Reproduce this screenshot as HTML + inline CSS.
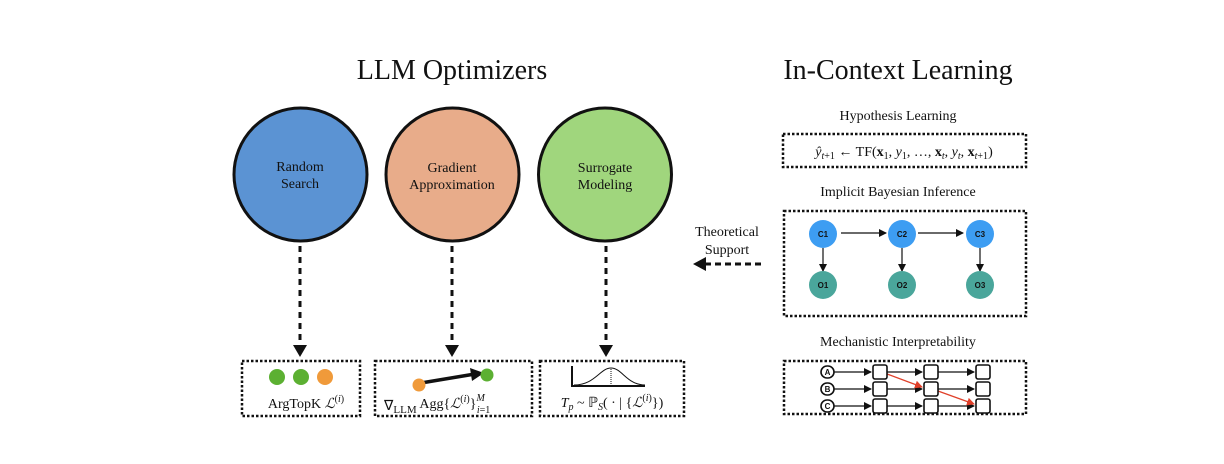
<!DOCTYPE html>
<html><head><meta charset="utf-8"><style>
html,body{margin:0;padding:0;background:#fff;}
svg{display:block;}
text{font-family:"Liberation Serif",serif;fill:#111;}
.s{font-family:"Liberation Sans",sans-serif;font-weight:bold;font-size:8px;}
</style></head><body>
<svg width="1224" height="464" viewBox="0 0 1224 464" xmlns="http://www.w3.org/2000/svg">
<defs>
<marker id="ah" markerWidth="8" markerHeight="8" refX="7" refY="4" orient="auto" markerUnits="userSpaceOnUse"><path d="M0,0 L8,4 L0,8 z" fill="#111"/></marker>
<marker id="ar" markerWidth="8" markerHeight="8" refX="7" refY="4" orient="auto" markerUnits="userSpaceOnUse"><path d="M0,0 L8,4 L0,8 z" fill="#e0402a"/></marker>
</defs>
<text x="452" y="79" font-size="28" text-anchor="middle">LLM Optimizers</text>
<text x="898" y="79" font-size="28" text-anchor="middle">In-Context Learning</text>

<circle cx="300.5" cy="174.5" r="66.5" fill="#5b93d3" stroke="#111" stroke-width="3"/>
<circle cx="452.5" cy="174.5" r="66.5" fill="#e8ac8a" stroke="#111" stroke-width="3"/>
<circle cx="605" cy="174.5" r="66.5" fill="#a0d67d" stroke="#111" stroke-width="3"/>
<g font-size="14" text-anchor="middle">
<text x="300" y="171">Random</text><text x="300" y="188">Search</text>
<text x="452" y="172">Gradient</text><text x="452" y="189">Approximation</text>
<text x="605" y="172">Surrogate</text><text x="605" y="189">Modeling</text>
</g>

<g stroke="#111" stroke-width="3" stroke-dasharray="6,5">
<line x1="300" y1="246" x2="300" y2="343"/>
<line x1="452" y1="246" x2="452" y2="343"/>
<line x1="606" y1="246" x2="606" y2="343"/>
</g>
<g fill="#111">
<path d="M293,345 L307,345 L300,357 z"/>
<path d="M445,345 L459,345 L452,357 z"/>
<path d="M599,345 L613,345 L606,357 z"/>
</g>

<g fill="none" stroke="#111" stroke-width="2.5" stroke-dasharray="2.5,2">
<rect x="242" y="361" width="118" height="55"/>
<rect x="375" y="361" width="157" height="55"/>
<rect x="540" y="361" width="144" height="55"/>
<rect x="783" y="134" width="243" height="33"/>
<rect x="784" y="211" width="242" height="105"/>
<rect x="784" y="361" width="242" height="53"/>
</g>

<circle cx="277" cy="377" r="8" fill="#5cb032"/>
<circle cx="301" cy="377" r="8" fill="#5cb032"/>
<circle cx="325" cy="377" r="8" fill="#f09a3a"/>
<text x="306" y="408" font-size="14" text-anchor="middle">ArgTopK <tspan font-style="italic">ℒ</tspan><tspan font-size="10" dy="-6">(<tspan font-style="italic">i</tspan>)</tspan></text>

<line x1="421" y1="383" x2="475" y2="374" stroke="#111" stroke-width="3.5"/>
<path d="M470,368 L484,373 L472,381 z" fill="#111"/>
<circle cx="419" cy="385" r="6.5" fill="#f09a3a"/>
<circle cx="487" cy="375" r="6.5" fill="#5cb032"/>
<text x="384" y="410" font-size="14">∇<tspan font-size="11" dy="3">LLM</tspan><tspan dy="-5"> Agg{</tspan><tspan font-style="italic">ℒ</tspan><tspan font-size="10" dy="-6">(<tspan font-style="italic">i</tspan>)</tspan><tspan dy="6">}</tspan><tspan font-size="10" dy="-7" font-style="italic">M</tspan><tspan font-size="10" dx="-8" dy="12"><tspan font-style="italic">i</tspan>=1</tspan></text>

<path d="M572,366 L572,386 L645,386" fill="none" stroke="#111" stroke-width="2"/>
<path d="M574,385 C595,385 600,368 611,368 C622,368 627,385 645,385" fill="none" stroke="#111" stroke-width="1"/>
<line x1="611" y1="369" x2="611" y2="385" stroke="#111" stroke-width="1" stroke-dasharray="1,1"/>
<text x="612" y="407" font-size="14" text-anchor="middle"><tspan font-style="italic">T</tspan><tspan font-size="10" dy="3" font-style="italic">p</tspan><tspan dy="-3"> ~ ℙ</tspan><tspan font-size="10" dy="3" font-style="italic">S</tspan><tspan dy="-3">( · | {</tspan><tspan font-style="italic">ℒ</tspan><tspan font-size="10" dy="-6">(<tspan font-style="italic">i</tspan>)</tspan><tspan dy="6">})</tspan></text>

<text x="898" y="120" font-size="14" text-anchor="middle">Hypothesis Learning</text>
<text x="904" y="156" font-size="14" text-anchor="middle"><tspan font-style="italic">ŷ</tspan><tspan font-size="10" dy="3" font-style="italic">t</tspan><tspan font-size="10">+1</tspan><tspan dy="-3"> ← TF(</tspan><tspan font-weight="bold">x</tspan><tspan font-size="10" dy="3">1</tspan><tspan dy="-3">, </tspan><tspan font-style="italic">y</tspan><tspan font-size="10" dy="3">1</tspan><tspan dy="-3">, …, </tspan><tspan font-weight="bold">x</tspan><tspan font-size="10" dy="3" font-style="italic">t</tspan><tspan dy="-3">, </tspan><tspan font-style="italic">y</tspan><tspan font-size="10" dy="3" font-style="italic">t</tspan><tspan dy="-3">, </tspan><tspan font-weight="bold">x</tspan><tspan font-size="10" dy="3" font-style="italic">t</tspan><tspan font-size="10">+1</tspan><tspan dy="-3">)</tspan></text>
<text x="898" y="196" font-size="14" text-anchor="middle">Implicit Bayesian Inference</text>
<text x="898" y="346" font-size="14" text-anchor="middle">Mechanistic Interpretability</text>

<text x="727" y="236" font-size="14" text-anchor="middle">Theoretical</text>
<text x="727" y="254" font-size="14" text-anchor="middle">Support</text>
<line x1="761" y1="264" x2="706" y2="264" stroke="#111" stroke-width="3" stroke-dasharray="6,4"/>
<path d="M706,257 L706,271 L693,264 z" fill="#111"/>

<g stroke="#111" stroke-width="1.2" marker-end="url(#ah)">
<line x1="841" y1="233" x2="886" y2="233"/>
<line x1="918" y1="233" x2="963" y2="233"/>
<line x1="823" y1="248" x2="823" y2="271"/>
<line x1="902" y1="248" x2="902" y2="271"/>
<line x1="980" y1="248" x2="980" y2="271"/>
</g>
<g fill="#3d9df2">
<circle cx="823" cy="234" r="14"/><circle cx="902" cy="234" r="14"/><circle cx="980" cy="234" r="14"/>
</g>
<g fill="#4aa69b">
<circle cx="823" cy="285" r="14"/><circle cx="902" cy="285" r="14"/><circle cx="980" cy="285" r="14"/>
</g>
<g class="s" text-anchor="middle">
<text class="s" x="823" y="237">C1</text><text class="s" x="902" y="237">C2</text><text class="s" x="980" y="237">C3</text>
<text class="s" x="823" y="288">O1</text><text class="s" x="902" y="288">O2</text><text class="s" x="980" y="288">O3</text>
</g>

<g stroke="#111" stroke-width="1.2" marker-end="url(#ah)">
<line x1="834" y1="372" x2="871" y2="372"/><line x1="834" y1="389" x2="871" y2="389"/><line x1="834" y1="406" x2="871" y2="406"/>
<line x1="887" y1="372" x2="922" y2="372"/><line x1="887" y1="389" x2="922" y2="389"/><line x1="887" y1="406" x2="922" y2="406"/>
<line x1="938" y1="372" x2="974" y2="372"/><line x1="938" y1="389" x2="974" y2="389"/><line x1="938" y1="406" x2="974" y2="406"/>
</g>
<g stroke="#e0402a" stroke-width="1.3" marker-end="url(#ar)">
<line x1="887" y1="374" x2="922" y2="387"/>
<line x1="938" y1="391" x2="974" y2="404"/>
</g>
<g fill="#fff" stroke="#111" stroke-width="1.6">
<rect x="821" y="366" width="13" height="12" rx="6"/><rect x="821" y="383" width="13" height="12" rx="6"/><rect x="821" y="400" width="13" height="12" rx="6"/>
<rect x="873" y="365" width="14" height="14" rx="2"/><rect x="873" y="382" width="14" height="14" rx="2"/><rect x="873" y="399" width="14" height="14" rx="2"/>
<rect x="924" y="365" width="14" height="14" rx="2"/><rect x="924" y="382" width="14" height="14" rx="2"/><rect x="924" y="399" width="14" height="14" rx="2"/>
<rect x="976" y="365" width="14" height="14" rx="2"/><rect x="976" y="382" width="14" height="14" rx="2"/><rect x="976" y="399" width="14" height="14" rx="2"/>
</g>
<g text-anchor="middle">
<text class="s" x="827.5" y="375">A</text><text class="s" x="827.5" y="392">B</text><text class="s" x="827.5" y="409">C</text>
</g>
</svg>
</body></html>
